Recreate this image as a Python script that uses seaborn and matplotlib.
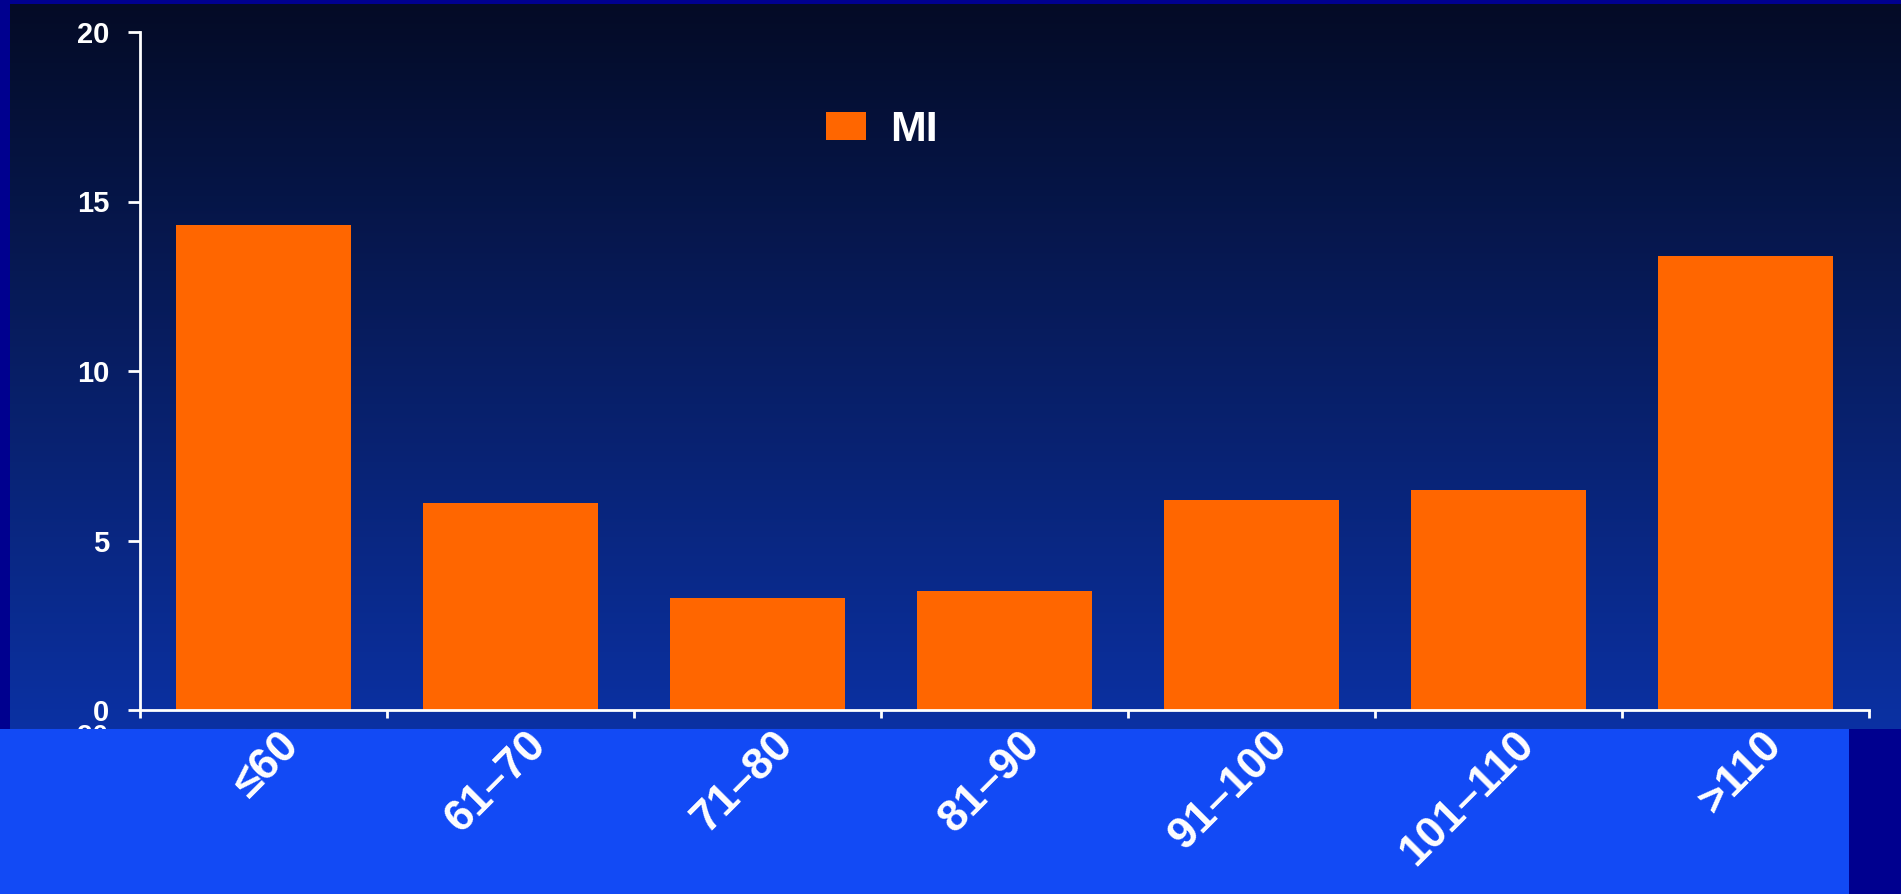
import numpy as np
import pandas as pd
import matplotlib
matplotlib.use("Agg")
import matplotlib.pyplot as plt
from matplotlib.patches import Rectangle, Patch
from matplotlib.colors import LinearSegmentedColormap
from matplotlib.transforms import ScaledTranslation
import seaborn as sns

# Data: event rate by heart-rate group
categories = ["≤60", "61–70", "71–80", "81–90", "91–100", "101–110", ">110"]
mi_values = [14.3, 6.1, 3.3, 3.5, 6.2, 6.5, 13.4]
series_name = "MI"
y_ticks = [0, 5, 10, 15, 20]

BAR = "#ff6600"
FRAME = "#00008f"
BAND = "#124af5"
GRAD_TOP = "#040b26"
GRAD_BOTTOM = "#0b31a3"

sns.set_theme(style="white")
plt.rcParams["font.family"] = ["Liberation Sans", "DejaVu Sans"]
plt.rcParams["font.weight"] = "bold"

W, H = 1901, 894
fig = plt.figure(figsize=(W / 100, H / 100), dpi=100)
fig.patch.set_facecolor(FRAME)

def fx(px):
    return px / W

def fy(py):
    return 1 - py / H

# Gradient slide background
bg = fig.add_axes([fx(10), fy(729), fx(W - 10), (729 - 4) / H], zorder=-3)
cmap = LinearSegmentedColormap.from_list("slide", [GRAD_TOP, GRAD_BOTTOM])
grad = np.linspace(0, 1, 256).reshape(-1, 1)
bg.imshow(grad, aspect="auto", cmap=cmap, extent=[0, 1, 0, 1], origin="upper")
bg.set_axis_off()

# Bright lower band
fig.patches.append(Rectangle((0, 0), fx(1849), 165 / H, transform=fig.transFigure,
                             facecolor=BAND, edgecolor="none", zorder=-1))
# Partly hidden label beneath the band
fig.text(fx(108), fy(737), "20", ha="right", va="center", color="white",
         fontsize=20, fontweight="bold", zorder=-2)

# Main chart
ax = fig.add_axes([fx(140), fy(710), fx(1869 - 140), (710 - 32) / H], zorder=1)
ax.patch.set_alpha(0)

df = pd.DataFrame({"group": categories, "rate": mi_values})
sns.barplot(data=df, x="group", y="rate", color=BAR, saturation=1, width=0.705,
            edgecolor="none", linewidth=0, ax=ax)

ax.set_xlim(-0.5, len(categories) - 0.5)
ax.set_ylim(0, 20)
ax.set_yticks(y_ticks)
ax.set_yticklabels([str(t) for t in y_ticks], fontsize=21, fontweight="bold", color="white")
ax.set_xlabel("")
ax.set_ylabel("")

for side in ["top", "right"]:
    ax.spines[side].set_visible(False)
for side in ["left", "bottom"]:
    ax.spines[side].set_color("white")
    ax.spines[side].set_linewidth(2)

ax.tick_params(axis="y", direction="out", length=9, width=2, color="white", pad=13, left=True)
# Category boundaries carry the x ticks; labels sit at the centres
ax.set_xticks(np.arange(-0.5, len(categories)), minor=True)
ax.tick_params(axis="x", which="minor", direction="out", length=6, width=2, color="white", bottom=True)
ax.tick_params(axis="x", which="major", length=0, pad=10)
ax.set_xticks(range(len(categories)))
ax.set_xticklabels(categories, rotation=45, ha="right", va="top", rotation_mode="anchor",
                   fontsize=32, fontweight="bold", color="white")
shift = ScaledTranslation(0.15, 0, fig.dpi_scale_trans)
for lab in ax.get_xticklabels():
    lab.set_transform(lab.get_transform() + shift)

leg = ax.legend(handles=[Patch(facecolor=BAR, edgecolor="none", label=series_name)],
                loc="center left", bbox_to_anchor=(0.397, 0.855), frameon=False,
                prop={"size": 31, "weight": "bold"}, handlelength=0.92, handleheight=0.62,
                handletextpad=0.55, borderpad=0, borderaxespad=0)
for t in leg.get_texts():
    t.set_color("white")

fig.savefig("out.png", dpi=100, facecolor=fig.get_facecolor())
